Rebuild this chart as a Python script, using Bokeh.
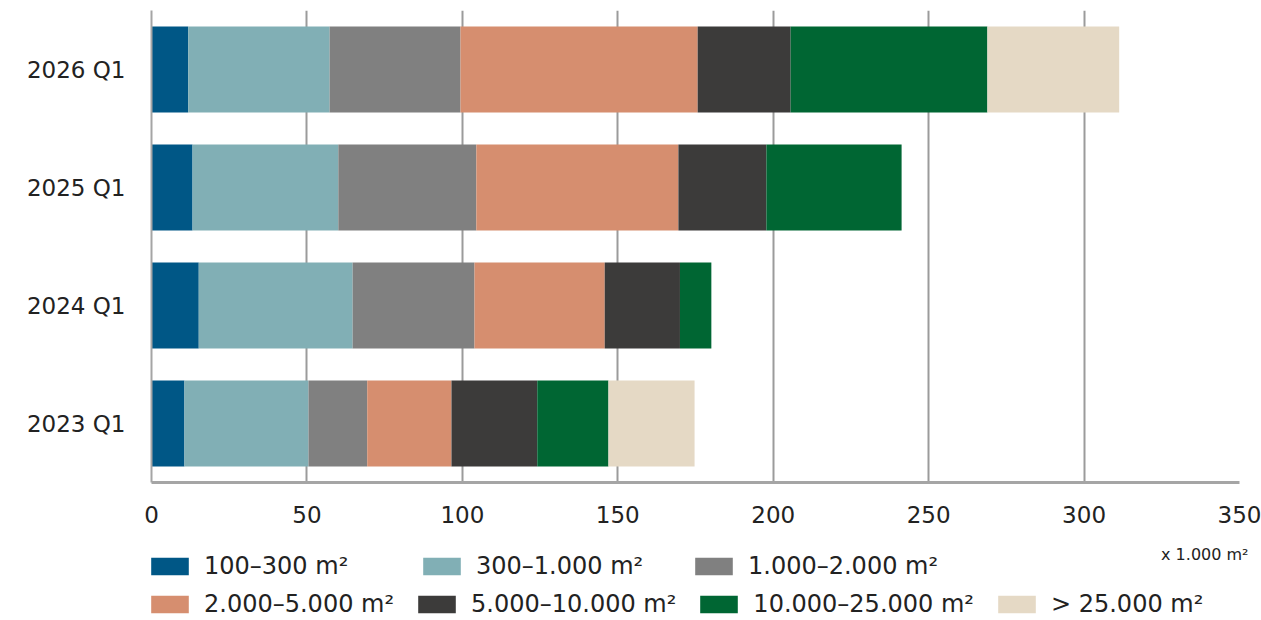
from bokeh.plotting import figure
from bokeh.layouts import column
from bokeh.models import Legend, LegendItem, Label, FixedTicker, Range1d, FactorRange, ColumnDataSource
from bokeh.embed import file_html
from bokeh.resources import INLINE

# ---- data (x 1.000 m²) ----
quarters = ["2023 Q1", "2024 Q1", "2025 Q1", "2026 Q1"]
size_classes = ["100–300 m²", "300–1.000 m²", "1.000–2.000 m²", "2.000–5.000 m²",
                "5.000–10.000 m²", "10.000–25.000 m²", "> 25.000 m²"]
s_100_300 = [10.6, 15.2, 13.2, 11.8]
s_300_1000 = [39.9, 49.5, 46.9, 45.5]
s_1000_2000 = [18.9, 39.2, 44.4, 42.1]
s_2000_5000 = [27.1, 41.9, 65.0, 76.3]
s_5000_10000 = [27.6, 24.2, 28.3, 29.9]
s_10000_25000 = [22.9, 10.1, 43.5, 63.3]
s_25000_plus = [27.7, 0.0, 0.0, 42.4]
x_ticks = [0, 50, 100, 150, 200, 250, 300, 350]
unit_label = "x 1.000 m²"

colors = ["#005786", "#81afb5", "#808080", "#d68e6f", "#3c3b3a", "#006633", "#e5d9c5"]
FONT = "DejaVu Sans"
TEXT = "#222222"

keys = ["c0", "c1", "c2", "c3", "c4", "c5", "c6"]
series = [s_100_300, s_300_1000, s_1000_2000, s_2000_5000, s_5000_10000, s_10000_25000, s_25000_plus]
data = {"quarter": quarters}
for k, s in zip(keys, series):
    data[k] = s
source = ColumnDataSource(data)

p = figure(
    y_range=FactorRange(factors=quarters, range_padding=0),
    x_range=Range1d(0, 350),
    frame_width=1088, frame_height=472,
    min_border_left=151, min_border_right=22, min_border_top=10, min_border_bottom=58,
    output_backend="svg", toolbar_location=None,
)
p.outline_line_color = None

p.hbar_stack(keys, y="quarter", height=0.73, color=colors, line_width=0, source=source)

# axes
p.xaxis.ticker = FixedTicker(ticks=x_ticks)
p.xaxis.major_tick_out = 0
p.xaxis.major_tick_in = 0
p.xaxis.minor_tick_out = 0
p.xaxis.minor_tick_in = 0
p.xaxis.major_label_standoff = 23
p.xaxis.axis_line_color = "#a5a5a5"
p.xaxis.axis_line_width = 3
p.xaxis.major_label_text_font = FONT
p.xaxis.major_label_text_font_size = "23px"
p.xaxis.major_label_text_color = TEXT

p.yaxis.major_tick_out = 0
p.yaxis.major_tick_in = 0
p.yaxis.axis_line_color = "#a5a5a5"
p.yaxis.axis_line_width = 2
p.yaxis.major_label_standoff = 26
p.yaxis.major_label_text_font = FONT
p.yaxis.major_label_text_font_size = "23px"
p.yaxis.major_label_text_color = TEXT

p.xgrid.grid_line_color = "#9b9b9b"
p.xgrid.grid_line_width = 2
p.xgrid.ticker = FixedTicker(ticks=x_ticks)
p.ygrid.grid_line_color = None

# ---- legend strip (its bars lie outside its x range, only the legend shows) ----
lg = figure(frame_width=1110, frame_height=78,
            min_border_left=151, min_border_right=0, min_border_top=0, min_border_bottom=0,
            x_range=Range1d(-2, -1), y_range=FactorRange(factors=quarters),
            x_axis_type=None, y_axis_type=None,
            output_backend="svg", toolbar_location=None)
lg.outline_line_color = None
lg.grid.grid_line_color = None

swatches = lg.hbar_stack(keys, y="quarter", height=0.5, color=colors, line_width=0, source=source)

common = dict(orientation="horizontal", glyph_width=47, glyph_height=22, label_standoff=11,
              spacing=19, padding=0, margin=0, border_line_alpha=0, background_fill_alpha=0,
              label_text_font=FONT, label_text_font_size="24px", label_text_color=TEXT)

row1 = Legend(items=[LegendItem(label=size_classes[i], renderers=[swatches[i]]) for i in range(3)],
              location=(-5, 38), label_width=195, **common)
row2 = Legend(items=[LegendItem(label=size_classes[i], renderers=[swatches[i]]) for i in range(3, 7)],
              location=(-5, 0), **common)
lg.add_layout(row1, "center")
lg.add_layout(row2, "center")

lg.add_layout(Label(x=1097, y=64, x_units="screen", y_units="screen", text=unit_label,
                    text_font=FONT, text_font_size="16px", text_color=TEXT,
                    text_align="right", text_baseline="middle"))

layout = column(p, lg, spacing=0)
open("out.html", "w").write(file_html(layout, INLINE))
